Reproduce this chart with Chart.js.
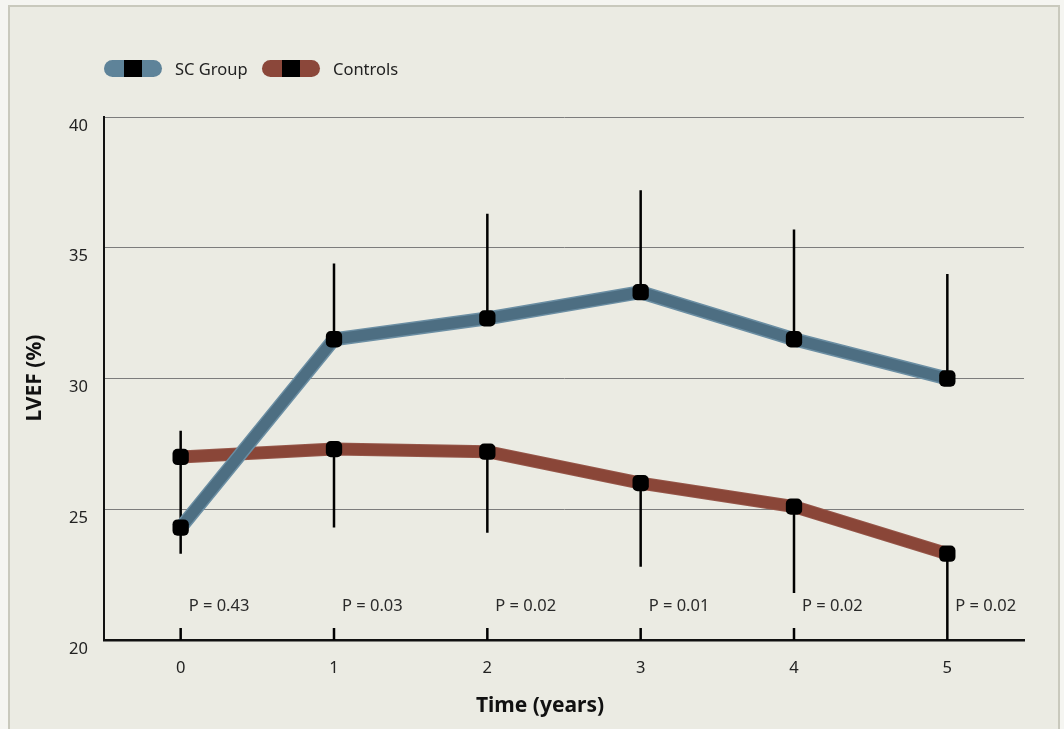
<!DOCTYPE html>
<html>
<head>
<meta charset="utf-8">
<script src="https://cdn.jsdelivr.net/npm/chart.js@4.4.1/dist/chart.umd.min.js"></script>
<style>
  body { margin: 0; background: #f5f5f1; font-family: "Noto Sans", sans-serif; }
  #frame { position: absolute; left: 8px; top: 5px; width: 1048px; height: 740px;
           border: 2px solid #c9c9bd; background: #ebebe3; }
  #wrap { position: absolute; left: 0; top: 0; width: 1064px; height: 729px; }
  .legend { position: absolute; top: 59px; height: 18px; display: flex; align-items: center; }
  .pill { width: 58px; height: 17px; border-radius: 9px; position: relative; }
  .pill span { position: absolute; left: 20px; top: 0; width: 18px; height: 17px; background: #000; }
  .legend label { margin-left: 13px; font-size: 16.5px; color: #222; }
</style>
</head>
<body>
<div id="frame"></div>
<div id="wrap">
  <canvas id="chart" width="1064" height="729"></canvas>
</div>
<div class="legend" style="left:104px"><div class="pill" style="background:#5e8399"><span></span></div><label>SC Group</label></div>
<div class="legend" style="left:262px"><div class="pill" style="background:#8b473a"><span></span></div><label>Controls</label></div>
<script>
var years = ['0', '1', '2', '3', '4', '5'];
var scGroup = [24.3, 31.5, 32.3, 33.3, 31.5, 30.0];
var scUpper = [28.0, 34.4, 36.3, 37.2, 35.7, 34.0];
var controls = [27.0, 27.3, 27.2, 26.0, 25.1, 23.3];
var controlsLower = [23.3, 24.3, 24.1, 22.8, 21.8, 20.0];
var pValues = ['P = 0.43', 'P = 0.03', 'P = 0.02', 'P = 0.01', 'P = 0.02', 'P = 0.02'];
var pLabelLevel = 21.3;

var extras = {
    id: 'extras',
    beforeDatasetsDraw: function(chart) {
        var ctx = chart.ctx, x = chart.scales.x, y = chart.scales.y;
        ctx.save();
        ctx.strokeStyle = '#000';
        ctx.lineWidth = 2.5;
        for (var i = 0; i < years.length; i++) {
            var px = x.getPixelForValue(i);
            ctx.beginPath();
            ctx.moveTo(px, y.getPixelForValue(scGroup[i]));
            ctx.lineTo(px, y.getPixelForValue(scUpper[i]));
            ctx.moveTo(px, y.getPixelForValue(controls[i]));
            ctx.lineTo(px, y.getPixelForValue(controlsLower[i]));
            // small tick marks sitting on the x axis
            ctx.moveTo(px, chart.chartArea.bottom);
            ctx.lineTo(px, chart.chartArea.bottom - 12);
            ctx.stroke();
        }
        ctx.fillStyle = '#2a2a2a';
        ctx.font = '16.5px "Noto Sans"';
        ctx.textBaseline = 'middle';
        for (var j = 0; j < pValues.length; j++) {
            ctx.fillText(pValues[j], x.getPixelForValue(j) + 8, y.getPixelForValue(pLabelLevel));
        }
        ctx.restore();
    },
    afterDraw: function(chart) {
        var ctx = chart.ctx;
        ctx.save();
        ctx.fillStyle = '#111';
        ctx.font = 'bold 21px "Noto Sans"';
        ctx.textAlign = 'center';
        ctx.textBaseline = 'middle';
        ctx.fillText('Time (years)', 540, 706);
        ctx.translate(35, 378);
        ctx.rotate(-Math.PI / 2);
        ctx.fillText('LVEF (%)', 0, 0);
        ctx.restore();
    }
};

new Chart(document.getElementById('chart'), {
    type: 'line',
    data: {
        labels: years,
        datasets: [{
            label: 'SC Group',
            data: scGroup,
            borderColor: '#4d6e82',
            borderWidth: 11,
            pointStyle: 'rectRounded',
            pointRadius: 9.5,
            pointBackgroundColor: '#000',
            pointBorderWidth: 0,
            order: 0
        }, {
            label: 'SC outline',
            data: scGroup,
            borderColor: '#6b8ea3',
            borderWidth: 14,
            pointRadius: 0,
            order: 1
        }, {
            label: 'Controls',
            data: controls,
            borderColor: '#8a4638',
            borderWidth: 11,
            pointStyle: 'rectRounded',
            pointRadius: 9.5,
            pointBackgroundColor: '#000',
            pointBorderWidth: 0,
            order: 2
        }, {
            label: 'Controls outline',
            data: controls,
            borderColor: '#96574a',
            borderWidth: 13,
            pointRadius: 0,
            order: 3
        }]
    },
    options: {
        responsive: false,
        animation: false,
        layout: { padding: { top: 117, right: 40, left: 0, bottom: 0 } },
        plugins: { legend: { display: false }, tooltip: { enabled: false } },
        scales: {
            x: {
                offset: true,
                grid: { display: false },
                border: { display: true, color: '#111', width: 2.5 },
                ticks: { padding: 10, color: '#222', font: { family: 'Noto Sans', size: 16.5 } },
                afterFit: function(s) { s.height = 89; }
            },
            y: {
                min: 20,
                max: 40,
                grid: { color: '#7c7c7c', lineWidth: 1, drawTicks: false },
                border: { display: true, color: '#111', width: 2 },
                ticks: { stepSize: 5, padding: 16, labelOffset: 9, color: '#222', font: { family: 'Noto Sans', size: 16.5 } },
                afterFit: function(s) { s.width = 104; }
            }
        }
    },
    plugins: [extras]
});
</script>
</body>
</html>
